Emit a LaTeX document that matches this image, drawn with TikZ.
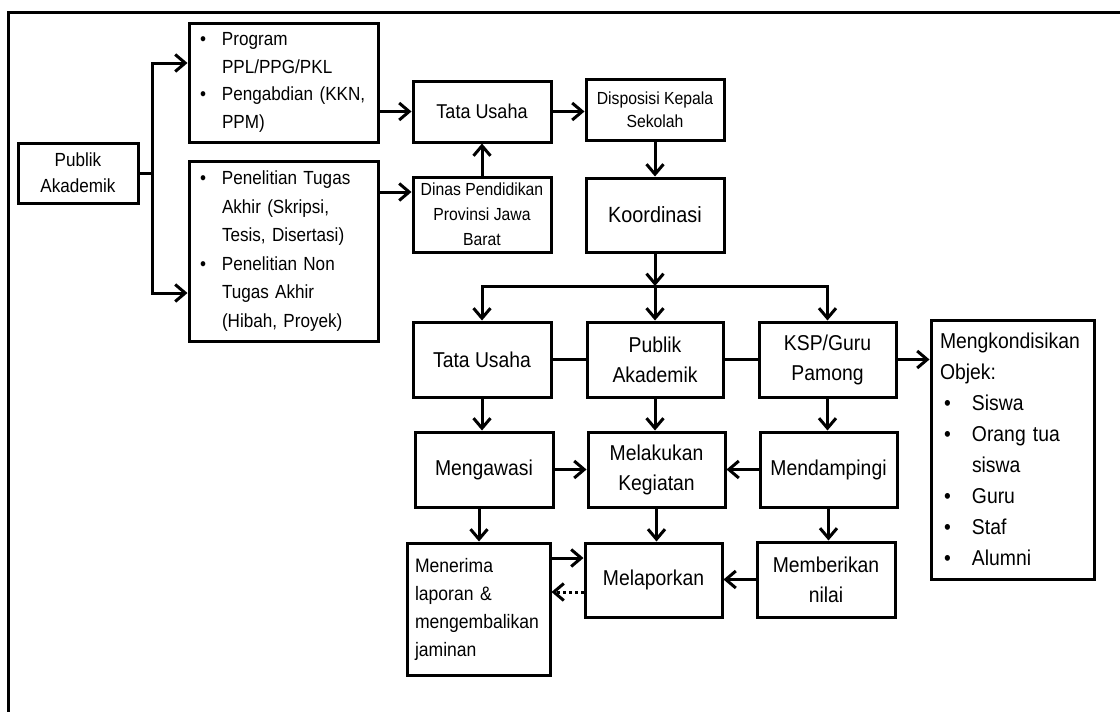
\documentclass[tikz,border=0pt]{standalone}
\usepackage{fontspec}
\setmainfont{Liberation Sans}[FakeStretch=0.9]
\usetikzlibrary{arrows.meta}
\newcommand\fsz[2]{\fontsize{#1}{#2}\selectfont}
\newcommand\bl{\makebox[22pt][l]{\textbullet}}
\newcommand\ct{\hspace*{22pt}}
\newcommand\mbl{\hspace*{4pt}\makebox[28pt][l]{\textbullet}}
\newcommand\mct{\hspace*{32pt}}
\begin{document}
\begin{tikzpicture}[x=1pt,y=-1pt,
  box/.style={draw, line width=3pt, inner sep=2pt, align=center},
  arr/.style={line width=3pt, -{Straight Barb[length=10pt,width=17pt]}},
  ln/.style={line width=3pt}]
\useasboundingbox (0,0) rectangle (1120,712);
\fill[white] (0,0) rectangle (1120,712);
% frame
\draw[ln] (1120,12) -- (8,12) -- (8,712);
% nodes
\node[box, minimum width=120, minimum height=60, font=\fsz{19}{26}] (pa1) at (78,173) {Publik\\Akademik};
\node[box, text width=167pt, inner xsep=11pt, inner ysep=0pt, minimum height=119, align=left, font=\fsz{19}{27.5}] (prog) at (283.5,82.5) {\bl Program\\\ct PPL/PPG/PKL\\\bl Pengabdian (KKN,\\\ct PPM)};
\node[box, text width=167pt, inner xsep=11pt, inner ysep=0pt, minimum height=180, align=left, font=\fsz{19}{28.6}] (pen) at (283.5,251) {\bl Penelitian Tugas\\\ct Akhir (Skripsi,\\\ct Tesis, Disertasi)\\\bl Penelitian Non\\\ct Tugas Akhir\\\ct (Hibah, Proyek)};
\node[box, minimum width=138, minimum height=61, font=\fsz{20}{26}] (tu1) at (482,111.5) {Tata Usaha};
\node[box, minimum width=138, minimum height=61, font=\fsz{17.5}{23}] (disp) at (655,109.5) {Disposisi Kepala\\Sekolah};
\node[box, minimum width=138, minimum height=75, font=\fsz{17.5}{25}] (dinas) at (482,214.5) {Dinas Pendidikan\\Provinsi Jawa\\Barat};
\node[box, minimum width=138, minimum height=74, font=\fsz{22}{28}] (koord) at (655,215) {Koordinasi};
\node[box, minimum width=138, minimum height=75, font=\fsz{21.5}{30}] (tu2) at (482,359.5) {Tata Usaha};
\node[box, minimum width=136, minimum height=75, font=\fsz{21.5}{30}] (pa2) at (655,359.5) {Publik\\Akademik};
\node[box, minimum width=137, minimum height=75, font=\fsz{21.5}{30}] (ksp) at (827.5,359.5) {KSP/Guru\\Pamong};
\node[box, text width=145pt, inner xsep=9pt, inner ysep=0pt, minimum height=259, align=left, font=\fsz{21.5}{31}] (mk) at (1012.5,449.5) {Mengkondisikan\\Objek:\\\mbl Siswa\\\mbl Orang tua\\\mct siswa\\\mbl Guru\\\mbl Staf\\\mbl Alumni};
\node[box, minimum width=138, minimum height=75, font=\fsz{21.5}{30}] (meng) at (484,469.5) {Mengawasi};
\node[box, minimum width=137, minimum height=75, font=\fsz{21.5}{30}] (melak) at (656.5,469.5) {Melakukan\\Kegiatan};
\node[box, minimum width=137, minimum height=75, font=\fsz{21.5}{30}] (mend) at (828.5,469.5) {Mendampingi};
\node[box, text width=127pt, inner xsep=8pt, inner ysep=0pt, minimum height=132, align=left, font=\fsz{19.5}{28}] (menr) at (478.5,609) {Menerima\\laporan \&\\mengembalikan\\jaminan};
\node[box, minimum width=137, minimum height=74, font=\fsz{21.5}{30}] (lap) at (653.5,580) {Melaporkan};
\node[box, minimum width=138, minimum height=75, font=\fsz{21.5}{30}] (beri) at (826,579.5) {Memberikan\\nilai};
% connectors
\coordinate (j0) at (152,173);
\coordinate (j1) at (152,63);
\coordinate (j2) at (152,293);
\draw[ln] (pa1.east) -- (j0);
\draw[arr] (j0) -- (j1) -- (j1 -| prog.west);
\draw[arr] (j0) -- (j2) -- (j2 -| pen.west);
\draw[arr] (prog.east |- tu1.west) -- (tu1.west);
\coordinate (c192) at (0,192);
\draw[arr] (pen.east |- c192) -- (dinas.west |- c192);
\draw[arr] (dinas.north) -- (tu1.south);
\draw[arr] (tu1.east) -- (tu1.east -| disp.west);
\draw[arr] (disp.south) -- (koord.north);
\coordinate (hy) at (0,286);
\draw[arr] (koord.south) -- (koord.south |- hy);
\draw[arr] (koord.south |- hy) -| (tu2.north);
\draw[arr] (koord.south |- hy) -| (ksp.north);
\draw[arr] (koord.south |- hy) -- (pa2.north);
\draw[ln] (tu2.east) -- (pa2.west);
\draw[ln] (pa2.east) -- (ksp.west);
\draw[arr] (ksp.east) -- (ksp.east -| mk.west);
\draw[arr] (tu2.south) -- (tu2.south |- meng.north);
\draw[arr] (pa2.south) -- (pa2.south |- melak.north);
\draw[arr] (ksp.south) -- (ksp.south |- mend.north);
\draw[arr] (meng.east) -- (melak.west);
\draw[arr] (mend.west) -- (melak.east);
\coordinate (x479) at (479,0);
\draw[arr] (meng.south -| x479) -- (menr.north -| x479);
\draw[arr] (melak.south) -- (melak.south |- lap.north);
\draw[arr] (mend.south) -- (mend.south |- beri.north);
\coordinate (y558) at (0,558);
\coordinate (y592) at (0,592);
\draw[arr] (menr.east |- y558) -- (lap.west |- y558);
\draw[arr, dash pattern=on 3pt off 3pt] (lap.west |- y592) -- (menr.east |- y592);
\draw[arr] (beri.west) -- (beri.west -| lap.east);
\end{tikzpicture}
\end{document}
